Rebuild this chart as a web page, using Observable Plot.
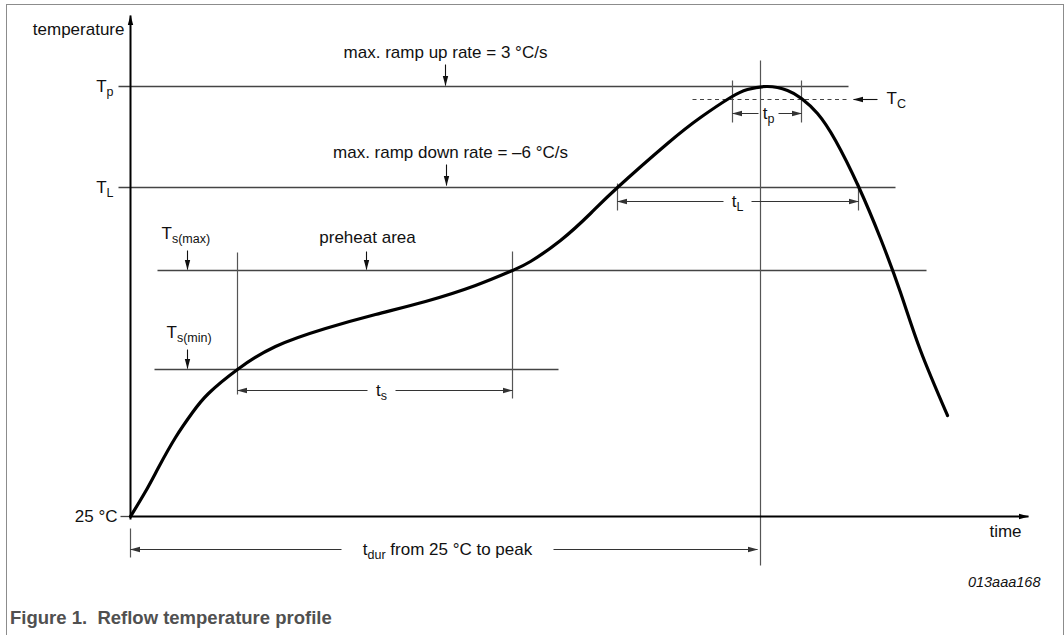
<!DOCTYPE html>
<html>
<head>
<meta charset="utf-8">
<script src="https://cdn.jsdelivr.net/npm/d3@7"></script>
<script src="https://cdn.jsdelivr.net/npm/@observablehq/plot@0.6"></script>
<style>
  html, body { margin: 0; padding: 0; background: #fff; }
  body { width: 1064px; height: 635px; position: relative; overflow: hidden; font-family: "Liberation Sans", Arial, sans-serif; }
  #frame { position: absolute; left: 6px; top: 4px; width: 1058px; height: 640px; box-sizing: border-box;
           border: 1.6px solid #8c8c8c; border-bottom: none; pointer-events: none; }
  #chart { position: absolute; left: 0; top: 0; }
  #caption { position: absolute; left: 10px; top: 607px; font-size: 18.5px; line-height: 22px; font-weight: bold;
             color: #505050; white-space: pre; }
</style>
</head>
<body>
<div id="chart"></div>
<div id="caption">Figure 1.  Reflow temperature profile</div>
<div id="frame"></div>
<script>
// ---- Data (diagram units: time from start, temperature above 25 °C baseline) ----
// Reflow profile curve
const profileTime = [0, 15, 28, 45, 62, 78, 107, 145, 195, 245, 295, 345, 382, 400, 430, 460, 487, 537, 570, 600, 617, 637, 657, 671, 687, 705, 728, 750, 770, 790, 817];
const profileTemp = [0, 25, 49, 79, 104, 123, 147, 170, 188, 202, 215, 231, 246, 255, 276, 303, 329, 373, 399, 419, 427, 430, 426, 418, 403, 376, 330, 278, 224, 166, 101];

// Horizontal temperature levels
const levelName = ["Tp", "TL", "Ts(max)", "Ts(min)", "TC"];
const levelTemp = [430, 329, 246, 147, 417];
const levelFrom = [-12, -12, 27, 24, 562];
const levelTo = [718, 765, 796, 428, 718];
const levelDashed = [false, false, false, false, true];

// Vertical time markers
const markerTime = [107, 382, 630, 602, 671, 487, 728, 0];
const markerTop = [264, 265, 456, 436, 436, 333, 333, -12];
const markerBottom = [122, 118, -49, 394, 394, 306, 306, -41];

// Dimension spans (double-headed arrows with label)
const spanLabel = ["t_{s}", "t_{p}", "t_{L}", "t_{dur} from 25 °C to peak"];
const spanStart = [107, 602, 487, 0];
const spanEnd = [382, 671, 728, 627];
const spanTemp = [126, 403, 315, -33];
const spanLabelTime = [251, 638, 607, 317];
const spanGap = [14, 10, 14, 106];

// Pointer arrows
const pointerFromTime = [315, 316, 57, 236, 57, 747];
const pointerFromTemp = [452, 352, 266, 265, 167, 417];
const pointerToTime = [315, 316, 57, 236, 57, 723];
const pointerToTemp = [431, 331, 247, 247, 148, 417];

// Text labels
const labelText = ["temperature", "T_{p}", "T_{L}", "25 °C", "T_{s(max)}", "T_{s(min)}", "preheat area",
  "max. ramp up rate = 3 °C/s", "max. ramp down rate = –6 °C/s", "T_{C}", "time"];
const labelTime = [-6, -17, -17, -13, 31, 36, 237, 315, 320, 756, 875];
const labelTemp = [487, 430, 329, 0, 283, 184, 279, 464, 364, 418, -15];
const labelAnchor = ["end", "end", "end", "end", "start", "start", "middle", "middle", "middle", "start", "middle"];

const figureId = "013aaa168";
const figureIdTime = 910;
const figureIdTemp = -66;

// Axis extents
const axisTimeMax = 898;
const axisTempMax = 501;

// ---- Build tables ----
const profile = profileTime.map((t, i) => ({t, T: profileTemp[i]}));
const levels = levelName.map((name, i) => ({name, T: levelTemp[i], from: levelFrom[i], to: levelTo[i], dashed: levelDashed[i]}));
const markersV = markerTime.map((t, i) => ({t, top: markerTop[i], bottom: markerBottom[i]}));
const spans = spanLabel.map((label, i) => ({label, start: spanStart[i], end: spanEnd[i], T: spanTemp[i], lt: spanLabelTime[i], gap: spanGap[i]}));
const spanHalves = spans.flatMap(s => [
  {from: s.lt - s.gap, to: s.start, T: s.T},
  {from: s.lt + s.gap, to: s.end, T: s.T}
]);
const pointers = pointerFromTime.map((t, i) => ({t1: t, T1: pointerFromTemp[i], t2: pointerToTime[i], T2: pointerToTemp[i]}));
const labels = labelText.map((text, i) => ({text, t: labelTime[i], T: labelTemp[i], anchor: labelAnchor[i]}));
const axes = [
  {t1: 0, T1: -3, t2: 0, T2: axisTempMax},
  {t1: -1, T1: 0, t2: axisTimeMax, T2: 0}
];

const font = "'Liberation Sans', Arial, sans-serif";
const ink = "#111";

const chart = Plot.plot({
  width: 1064,
  height: 590,
  margin: 0,
  x: {domain: [-130, 934], range: [0, 1064], axis: null},
  y: {domain: [-74, 516], range: [590, 0], axis: null},
  style: {fontFamily: font, fontSize: "17px", background: "transparent", color: ink},
  marks: [
    // temperature levels
    Plot.link(levels.filter(d => !d.dashed), {x1: "from", x2: "to", y1: "T", y2: "T", stroke: "#444", strokeWidth: 1.3}),
    Plot.link(levels.filter(d => d.dashed), {x1: "from", x2: "to", y1: "T", y2: "T", stroke: "#444", strokeWidth: 1.2, strokeDasharray: "4,3.5"}),
    // 25 °C tick
    Plot.link([{T: 0}], {x1: () => -10, x2: () => 0, y1: "T", y2: "T", stroke: "#444", strokeWidth: 1.3}),
    // vertical markers
    Plot.link(markersV, {x1: "t", x2: "t", y1: "top", y2: "bottom", stroke: "#555", strokeWidth: 1.2}),
    // dimension spans
    Plot.link(spanHalves, {x1: "from", x2: "to", y1: "T", y2: "T", stroke: "#333", strokeWidth: 1, markerEnd: "arrow"}),
    // pointers
    Plot.link(pointers, {x1: "t1", y1: "T1", x2: "t2", y2: "T2", stroke: "#111", strokeWidth: 1.1, markerEnd: "arrow"}),
    // axes
    Plot.link(axes, {x1: "t1", y1: "T1", x2: "t2", y2: "T2", stroke: "#000", strokeWidth: 2, markerEnd: "arrow"}),
    // profile curve
    Plot.line(profile, {x: "t", y: "T", curve: "natural", stroke: "#000", strokeWidth: 3.2}),
    // labels
    Plot.text(labels.filter(d => d.anchor === "start"), {x: "t", y: "T", text: "text", textAnchor: "start", lineAnchor: "middle", fill: ink, fontSize: 17}),
    Plot.text(labels.filter(d => d.anchor === "middle"), {x: "t", y: "T", text: "text", textAnchor: "middle", lineAnchor: "middle", fill: ink, fontSize: 17}),
    Plot.text(labels.filter(d => d.anchor === "end"), {x: "t", y: "T", text: "text", textAnchor: "end", lineAnchor: "middle", fill: ink, fontSize: 17}),
    Plot.text(spans, {x: "lt", y: "T", text: "label", textAnchor: "middle", lineAnchor: "middle", fill: ink, fontSize: 17}),
    Plot.text([{id: figureId, t: figureIdTime, T: figureIdTemp}], {x: "t", y: "T", text: "id", textAnchor: "end", lineAnchor: "middle", fill: ink, fontSize: 14.5, fontStyle: "italic"})
  ]
});

// ---- Post-processing: filled arrowheads and subscripts ----
const NS = "http://www.w3.org/2000/svg";
chart.querySelectorAll("marker").forEach(m => {
  const color = m.getAttribute("stroke") || "#000";
  m.setAttribute("viewBox", "-10 -5 11 10");
  m.setAttribute("markerUnits", "userSpaceOnUse");
  m.setAttribute("markerWidth", 11);
  m.setAttribute("markerHeight", 10);
  m.setAttribute("fill", color);
  m.setAttribute("stroke", "none");
  while (m.firstChild) m.removeChild(m.firstChild);
  const p = document.createElementNS(NS, "path");
  p.setAttribute("d", "M-9.5,-2.7L0.5,0L-9.5,2.7Z");
  m.appendChild(p);
});

chart.querySelectorAll("text").forEach(t => {
  const s = t.textContent;
  if (!s.includes("_{")) return;
  while (t.firstChild) t.removeChild(t.firstChild);
  const re = /_\{([^}]*)\}/g;
  let last = 0, m, lowered = false;
  const add = (str, sub) => {
    if (!str) return;
    const sp = document.createElementNS(NS, "tspan");
    sp.textContent = str;
    if (sub) { sp.setAttribute("font-size", 12.5); sp.setAttribute("dy", 4.5); lowered = true; }
    else if (lowered) { sp.setAttribute("dy", -4.5); lowered = false; }
    t.appendChild(sp);
  };
  while ((m = re.exec(s))) {
    add(s.slice(last, m.index), false);
    add(m[1], true);
    last = re.lastIndex;
  }
  add(s.slice(last), false);
});

document.getElementById("chart").appendChild(chart);
</script>
</body>
</html>
